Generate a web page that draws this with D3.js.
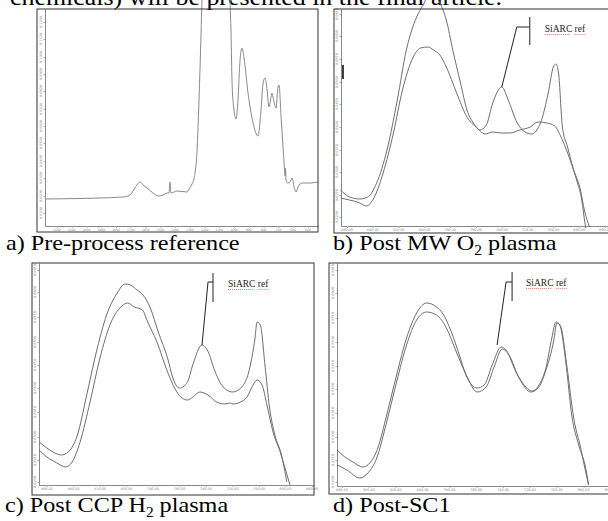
<!DOCTYPE html>
<html><head><meta charset="utf-8">
<script src="https://cdn.jsdelivr.net/npm/d3@7"></script>
<style>body{margin:0;background:#fff}</style>
</head><body>
<script>
// ---------- data ----------
const aWavenumber = [2281,2044,1909,1753,1705,1672,1638,1610,1590,1550,1509,1482,1455,1441,1434,1428,1387,1319,1306,1285,1265,1251,1238,1224,1218,1197,1163,1096,1055,1035,1028,1021,1014,1001,987,974,960,947,933,906,872,838,818,804,791,777,764,743,737,716,703,696,682,669,662,655,652,649,635,621,608,594,581,567,540,486,432];
const aAbsorbance = [27,27.5,28,29,31,38,44,40,38,33,30,31,33,33,44,33,35,34,37,42,53,76,126,193,226,290,330,340,310,260,226,193,143,116,107,126,166,178,168,133,103,90,116,143,148,136,119,133,129,118,139,141,109,79,63,50,58,46,43,44,48,39,34,39,43,43,44];

const bWavenumber1 = [865,858,850,844,837,829,821,814,806,801,795,788,783,778,772,767,762,757,752,747,740,735,728,722,717,710,704,700,698,696,693,689,685,679,676,672];
const bSignal1 = [36,29,27,29,43,76,126,176,209,221,234,223,206,176,143,116,103,96,101,123,139,126,103,94,92,103,133,159,162,153,99,79,59,36,16,-1];
const bWavenumber2 = [865,858,850,845,840,832,824,817,809,803,797,793,788,783,775,767,759,753,747,740,734,726,718,712,705,699,693,687,682,678,675.5,674.8];
const bSignal2 = [28,26,23,20,26,53,93,136,168,178,179,176,171,159,133,109,98,92,94,93,93,96,99,104,103,100,86,66,46,26,3,-2];

const cWavenumber1 = [866,860,855.5,849,844,837,830,822,815,807,801,797,792,787.5,782,776,769,765,760,754,750,743,739,733,727,720,713,707,703,701.5,699,695.5,692,688,683,679];
const cSignal1 = [43,37,33,30,33,50,90,137,170,192,201,200,195,190,177,153,127,107,97,103,120,140,135,113,98,93,98,117,147,163,160,120,77,50,30,3];
const cWavenumber2 = [866,860,852.5,846,841,835,827.5,820,812.5,805,799,794,788,784,777,769,762,754,750,744.5,738.5,732,726,722,719.5,714,709,704.5,701.5,697.7,694,689.4,684,680.4,676.6];
const cSignal2 = [35,28,22,18,23,43,83,127,160,177,182,178,175,163,143,113,93,85,88,93,90,83,81,82,81,83,88,100,105,100,80,53,33,17,0];

const dWavenumber1 = [863.7,857.8,851.9,844.4,839.3,833.3,826.7,819.3,811.9,804.4,797,789.6,785.2,778.5,772.6,766.7,759.3,754.1,748.1,741.5,737.8,730.4,723,718.5,713.3,708.1,703.7,700.7,697.8,693.3,688.9,683.7,678.5,676.3];
const dSignal1 = [36,29,24,19,23,38,71,111,148,173,183,179,173,154,131,108,98,101,121,139,136,114,99,95,101,118,148,164,161,124,71,41,18,1];
const dWavenumber2 = [863.7,856.3,846.7,840.7,834.1,826.7,819.3,811.9,804.4,797,789.6,782.2,774.8,767.4,759.3,752.6,746.7,740.7,735.6,728.1,719.3,713.3,708.1,702.2,700,697,692.6,687.4,682.2,678.5,676.3];
const dSignal2 = [21,16,8,13,28,64,104,141,166,174,171,158,134,111,94,99,119,137,131,108,94,99,116,146,163,159,121,68,38,14,1];

// tick labels
const aXTicks = [2200,2100,2000,1900,1800,1700,1600,1500,1400,1300,1200,1100,1000,900,800,700,600,500];
const aYTicks = [13,30,48,65,83,100,117,135,152,169,187,204];
const aYLabels = ["0.0100","0.0200","0.0300","0.0400","0.0500","0.0600","0.0700","0.0800","0.0900","0.1000","0.1100","0.1200"];
const bcdXTicks = [860,840,820,800,780,760,740,720,700,680,660];
const bYTicks = [9,31,54,76,99,122,144,167,190,212];
const cYTicks = [3,25,48,73,97,120,143,168,193,215];
const dYTicks = [4,26,49,73,97,120,144,168,193,216];
const bcdYLabels = ["0.0200","0.0250","0.0300","0.0350","0.0400","0.0450","0.0500","0.0550","0.0600","0.0650"];

const topText = "chemicals) will be presented in the final article.";
const captions = [
  {parts:[["a) Pre-process reference",false]]},
  {parts:[["b) Post MW O",false],["2",true],[" plasma",false]]},
  {parts:[["c) Post CCP H",false],["2",true],[" plasma",false]]},
  {parts:[["d) Post-SC1",false]]}
];
const annLabel = "SiARC ref";

// ---------- drawing ----------
const W = 608, H = 521;
const svg = d3.select("body").append("svg").attr("width", W).attr("height", H).style("display","block");
svg.append("rect").attr("width", W).attr("height", H).attr("fill", "#fff");

const serif = "'Liberation Serif','Times New Roman',serif";

svg.append("text").attr("x", 0).attr("y", 0)
  .attr("transform", "translate(10,5) scale(1.08,1)")
  .attr("font-family", serif).attr("font-size", 24).attr("fill", "#000")
  .text(topText);

function zip(xs, ys){ return xs.map((v,i)=>[v, ys[i]]); }

function panel(cfg){
  const g = svg.append("g");
  const [bx0, by0, bx1, by1] = cfg.box;
  const x = d3.scaleLinear().domain(cfg.xDomain).range([cfg.left, cfg.right]);
  const y = d3.scaleLinear().domain([0, cfg.bottom - cfg.top]).range([cfg.bottom, cfg.top]);

  // x axis (tick marks + tiny labels)
  const xa = g.append("g").attr("transform", `translate(0,${cfg.bottom})`)
    .call(d3.axisBottom(x).tickValues(cfg.xTicks).tickFormat("").tickSize(2).tickSizeOuter(0));
  xa.select(".domain").attr("stroke", "#888");
  xa.selectAll(".tick line").attr("stroke", "#aaa");
  g.selectAll("text.xl").data(cfg.xTicks).join("text").attr("class","xl")
    .attr("x", d => x(d)).attr("y", cfg.bottom + 5)
    .attr("text-anchor", "middle").attr("font-size", cfg.xFont).attr("fill", "#888")
    .attr("font-family", "DejaVu Sans")
    .text(d => cfg.xFmt(d));

  // y axis
  const ya = g.append("g").attr("transform", `translate(${cfg.left},0)`)
    .call(d3.axisLeft(y).tickValues(cfg.yTicks).tickFormat("").tickSize(1.5).tickSizeOuter(0));
  ya.select(".domain").attr("stroke", "#888");
  ya.selectAll(".tick line").attr("stroke", "#aaa");
  g.selectAll("text.yl").data(cfg.yTicks).join("text").attr("class","yl")
    .attr("transform", d => `translate(${cfg.left - 3},${y(d)}) rotate(-90)`)
    .attr("text-anchor", "middle").attr("font-size", 3.4).attr("fill", "#888")
    .attr("font-family", "DejaVu Sans")
    .text((d,i) => cfg.yLabels[i]);

  // curves
  const line = d3.line().x(d => x(d[0])).y(d => y(d[1])).curve(d3.curveMonotoneX);
  cfg.series.forEach(s => {
    g.append("path").datum(s).attr("d", line).attr("fill", "none")
      .attr("stroke", cfg.curveColor).attr("stroke-width", 1);
  });

  // frame
  g.append("rect").attr("x", bx0).attr("y", by0).attr("width", bx1 - bx0).attr("height", by1 - by0)
    .attr("fill", "none").attr("stroke", "#333").attr("stroke-width", 1);

  // annotation
  if (cfg.ann) {
    const a = cfg.ann;
    const ax = x(a.wn), ay = y(a.val);
    const sx = ax + a.start[0], sy = ay + a.start[1];
    const ex = ax + a.elbow[0], ey = ay + a.elbow[1];
    const tx = ax + a.end[0];
    g.append("path").attr("d", `M${sx},${sy}L${ex},${ey}L${tx},${ey}`)
      .attr("fill", "none").attr("stroke", "#222").attr("stroke-width", 1);
    g.append("line").attr("x1", tx).attr("x2", tx).attr("y1", ey + a.bar[0]).attr("y2", ey + a.bar[1])
      .attr("stroke", "#222").attr("stroke-width", 1);
    const t = g.append("text").attr("x", ax + a.text[0]).attr("y", ay + a.text[1])
      .attr("font-family", serif).attr("font-size", 9.5).attr("fill", "#222").text(annLabel);
    const bb = t.node().getBBox();
    // spell-check squiggle
    const uy = ay + a.text[1] + 2.5;
    const w0 = bb.width * 0.62;
    g.append("line").attr("x1", bb.x).attr("x2", bb.x + w0).attr("y1", uy).attr("y2", uy)
      .attr("stroke", "#e05050").attr("stroke-width", 0.8).attr("stroke-dasharray", "1,1");
    g.append("line").attr("x1", bb.x + w0 + bb.width*0.1).attr("x2", bb.x + bb.width).attr("y1", uy).attr("y2", uy)
      .attr("stroke", "#e05050").attr("stroke-width", 0.8).attr("stroke-dasharray", "1,1");
  }
  if (cfg.marker) {
    g.append("line").attr("x1", cfg.marker[0]).attr("x2", cfg.marker[0])
      .attr("y1", cfg.marker[1]).attr("y2", cfg.marker[2]).attr("stroke", "#111").attr("stroke-width", 1.6);
  }

  // caption
  const cap = svg.append("text").attr("transform", `translate(${cfg.cap[0]},${cfg.cap[1]}) scale(1.1,1)`)
    .attr("font-family", serif).attr("font-size", 22).attr("fill", "#000");
  cfg.caption.parts.forEach(p => {
    const ts = cap.append("tspan").text(p[0]);
    if (p[1]) ts.attr("font-size", 14).attr("dy", 5);
    else if (cap.selectAll("tspan").size() > 1) ts.attr("dy", -5);
  });
}

const fmt2 = d => d.toFixed(2);

panel({
  box:[37,9,318,232], left:45, right:318, top:9, bottom:226,
  xDomain:[2281,432], xTicks:aXTicks, xFmt:d => String(d), xFont:3,
  yTicks:aYTicks, yLabels:aYLabels,
  series:[zip(aWavenumber, aAbsorbance)], curveColor:"#8a8a8a",
  caption:captions[0], cap:[6,250]
});
panel({
  box:[334,9,614,233], left:341, right:614, top:9, bottom:226,
  xDomain:[864.65,653], xTicks:bcdXTicks, xFmt:fmt2, xFont:3.4,
  yTicks:bYTicks, yLabels:bcdYLabels,
  series:[zip(bWavenumber1,bSignal1), zip(bWavenumber2,bSignal2)], curveColor:"#6e6e6e",
  ann:{wn:740, val:139, start:[0,0], elbow:[15,-60], end:[28,-60], bar:[-10,18], text:[43,-55]},
  marker:[343,65,79],
  caption:captions[1], cap:[333,250]
});
panel({
  box:[32,263,314,495], left:39, right:314, top:263, bottom:485,
  xDomain:[866,658.5], xTicks:bcdXTicks, xFmt:fmt2, xFont:3.4,
  yTicks:cYTicks, yLabels:bcdYLabels,
  series:[zip(cWavenumber1,cSignal1), zip(cWavenumber2,cSignal2)], curveColor:"#6e6e6e",
  ann:{wn:743, val:140, start:[0,0], elbow:[6,-63], end:[11,-63], bar:[-9,20], text:[26,-58]},
  caption:captions[2], cap:[5,512]
});
panel({
  box:[329,263,614,494], left:337, right:614, top:263, bottom:486,
  xDomain:[863.7,657.4], xTicks:bcdXTicks, xFmt:fmt2, xFont:3.4,
  yTicks:dYTicks, yLabels:bcdYLabels,
  series:[zip(dWavenumber1,dSignal1), zip(dWavenumber2,dSignal2)], curveColor:"#6e6e6e",
  ann:{wn:741.5, val:139, start:[-4,-2], elbow:[5,-65], end:[11,-65], bar:[-10,19], text:[25,-61]},
  caption:captions[3], cap:[333,512]
});
</script>
</body></html>
